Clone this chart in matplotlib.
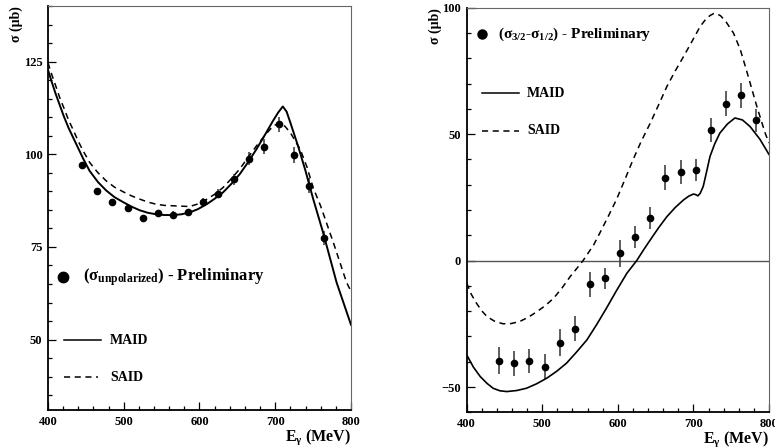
import matplotlib
matplotlib.use("Agg")
import matplotlib.pyplot as plt
from matplotlib.ticker import MultipleLocator

plt.rcParams['font.family'] = ['Liberation Serif', 'DejaVu Serif']
plt.rcParams['font.weight'] = 'bold'
plt.rcParams['mathtext.fontset'] = 'custom'
plt.rcParams['mathtext.rm'] = 'Liberation Serif:bold'
plt.rcParams['mathtext.it'] = 'Liberation Serif:italic:bold'
plt.rcParams['mathtext.bf'] = 'Liberation Serif:bold'

# Left panel: unpolarized cross section
unpol_e = [445, 465, 485, 505, 525, 545, 565, 585, 605, 625, 645, 665, 685, 705, 725, 745, 765]
unpol_val = [97.1, 90.1, 87.2, 85.6, 82.7, 84.1, 83.6, 84.3, 87.0, 89.4, 93.3, 98.8, 102.0, 108.1, 99.8, 91.5, 77.4]
unpol_err = [0.4, 0.4, 0.4, 0.4, 0.4, 0.8, 1.0, 1.0, 1.2, 1.3, 1.5, 1.8, 2.0, 2.0, 2.2, 2.0, 2.0]

maid1_e = [400, 405, 410, 416, 421, 427, 433, 440, 447, 455, 466, 477, 488, 500, 510, 521, 532, 543,
           554, 565, 576, 587, 598, 610, 620, 631, 642, 653, 664, 675, 686, 697, 704, 710, 715,
           720, 730, 740, 750, 763, 781, 800]
maid1_val = [122.8, 119.5, 116.4, 113.0, 110.2, 107.2, 104.6, 101.6, 98.6, 95.5, 92.5, 90.2, 88.4, 87.0,
             85.9, 84.9, 84.2, 83.8, 83.6, 83.6, 83.8, 84.3, 85.2, 86.6, 88.0, 89.7, 92.0, 94.6, 97.8,
             101.3, 105.1, 109.0, 111.3, 112.9, 111.5, 108.5, 102.3, 95.5, 88.0, 79.0, 65.4, 54.0]

said1_e = [400, 405, 411, 416, 422, 427, 433, 440, 447, 455, 466, 477, 488, 500, 510, 521, 532, 543,
           554, 565, 576, 587, 598, 610, 620, 631, 642, 653, 664, 675, 686, 697, 706, 713, 720,
           733, 742, 750, 760, 777, 794, 800]
said1_val = [124.7, 121.5, 118.0, 115.0, 112.0, 109.3, 106.7, 103.5, 100.7, 97.8, 95.0, 92.8, 91.1, 89.8,
             88.8, 87.9, 87.1, 86.5, 86.2, 86.1, 86.0, 85.9, 86.6, 87.9, 89.2, 91.0, 93.4, 96.0, 99.1,
             102.2, 105.0, 107.6, 108.5, 107.5, 105.8, 101.3, 96.5, 91.0, 86.0, 76.0, 65.5, 63.0]

# Right panel: helicity difference
diff_e = [443, 463, 483, 503, 523, 543, 563, 583, 603, 623, 643, 663, 683, 703, 723, 743, 763, 783]
diff_val = [-39.6, -40.6, -39.6, -41.9, -32.4, -26.9, -9.4, -7.0, 2.8, 9.3, 16.8, 32.8, 35.0, 35.8, 51.7, 62.0, 65.3, 55.4]
diff_err = [5.3, 5.0, 4.8, 5.0, 5.5, 4.8, 5.0, 4.2, 5.3, 4.5, 4.5, 4.8, 4.8, 4.5, 4.8, 5.0, 5.0, 4.5]

maid2_e = [400, 409, 418, 427, 435, 444, 453, 466, 479, 492, 506, 519, 532, 545, 559, 572, 585, 598,
           612, 625, 634, 643, 654, 665, 676, 687, 694, 700, 703, 706, 709, 713, 717, 722, 728,
           735, 745, 755, 765, 775, 788, 800]
maid2_val = [-37.3, -42.2, -45.9, -48.6, -50.5, -51.5, -51.8, -51.4, -50.5, -48.8, -46.5, -43.8, -40.6,
             -36.3, -31.4, -25.3, -18.8, -12.0, -5.0, 0.0, 4.2, 8.2, 13.0, 17.4, 21.0, 24.0, 25.5, 26.3,
             26.1, 25.6, 26.6, 29.3, 34.5, 41.2, 46.0, 50.4, 54.0, 56.4, 55.6, 53.0, 48.0, 42.0]

said2_e = [400, 406, 413, 420, 427, 437, 448, 459, 470, 481, 493, 504, 515, 526, 537, 546, 554, 561,
           568, 576, 587, 598, 609, 620, 631, 643, 654, 665, 676, 687, 698, 709, 716, 722, 727,
           731, 736, 743, 753, 762, 770, 777, 784, 795, 800]
said2_val = [-8.9, -13.3, -16.9, -19.9, -22.2, -24.0, -25.0, -24.9, -24.1, -22.5, -20.2, -17.8, -14.9,
             -10.9, -6.3, -3.0, 0.0, 3.1, 6.2, 10.8, 17.3, 24.0, 31.8, 39.8, 47.2, 54.4, 61.6, 68.9,
             75.0, 80.7, 86.6, 92.6, 95.3, 96.9, 97.7, 97.6, 96.8, 94.5, 90.0, 83.5, 75.5, 68.2, 60.9,
             50.4, 46.5]

fig = plt.figure(figsize=(7.75, 4.48), dpi=100)
ax1 = fig.add_axes([0.0619, 0.0848, 0.391, 0.9018])
ax2 = fig.add_axes([0.6022, 0.0797, 0.390, 0.9031])

dash = (0, (4, 3))


def style_axes(ax, ymajor, yminor):
    ax.set_xlim(400, 800)
    ax.xaxis.set_major_locator(MultipleLocator(100))
    ax.xaxis.set_minor_locator(MultipleLocator(20))
    ax.yaxis.set_major_locator(MultipleLocator(ymajor))
    ax.yaxis.set_minor_locator(MultipleLocator(yminor))
    ax.tick_params(which='both', direction='in', top=False, right=False,
                   labelsize=9, width=0.9, pad=4)
    ax.tick_params(which='major', length=6)
    ax.tick_params(which='minor', length=3)
    for lab in ax.get_xticklabels() + ax.get_yticklabels():
        lab.set_fontweight('bold')
    ax.spines['left'].set_linewidth(1.3)
    ax.spines['bottom'].set_linewidth(1.3)
    ax.spines['top'].set_color('#666666')
    ax.spines['right'].set_color('#666666')
    ax.set_ylabel("σ (μb)", fontsize=10, fontweight='bold', va='center')
    ax.set_xlabel(r"E$_{\mathrm{γ}}$ (MeV)", fontsize=11.5, fontweight='bold',
                  va='center', ha='right')


# left
ax1.errorbar(unpol_e, unpol_val, yerr=unpol_err, fmt='o', color='black',
             ecolor='#333333', elinewidth=1.1, markersize=4.5, capsize=0)
ax1.plot(maid1_e, maid1_val, color='black', lw=1.4)
ax1.plot(said1_e, said1_val, color='black', lw=1.1, linestyle=dash)
ax1.set_ylim(31, 140)
style_axes(ax1, 25, 5)
ax1.yaxis.set_label_coords(-0.106, 0.955)
ax1.xaxis.set_label_coords(1.0, -0.067)

t1 = ax1.transAxes
ax1.plot([0.0495], [0.329], 'o', color='black', markersize=7.5, transform=t1)
ax1.text(0.1155, 0.329, r"(σ$_{\mathrm{unpolarized}}$) - Preliminary", transform=t1,
         fontsize=12, fontweight='bold', va='center')
ax1.plot([0.053, 0.175], [0.1725, 0.1725], color='black', lw=1.1, transform=t1)
ax1.text(0.205, 0.1725, "MAID", transform=t1, fontsize=10, fontweight='bold', va='center')
ax1.plot([0.053, 0.165], [0.081, 0.081], color='black', lw=1.1, linestyle=dash, transform=t1)
ax1.text(0.205, 0.081, "SAID", transform=t1, fontsize=10, fontweight='bold', va='center')

# right
ax2.axhline(0, color='#555555', lw=1.0)
ax2.errorbar(diff_e, diff_val, yerr=diff_err, fmt='o', color='black',
             ecolor='#333333', elinewidth=1.1, markersize=4.5, capsize=0)
ax2.plot(maid2_e, maid2_val, color='black', lw=1.2)
ax2.plot(said2_e, said2_val, color='black', lw=1.1, linestyle=dash)
ax2.set_ylim(-60, 100)
style_axes(ax2, 50, 10)
ax2.yaxis.set_label_coords(-0.105, 0.955)
ax2.xaxis.set_label_coords(1.0, -0.066)

t2 = ax2.transAxes
ax2.plot([0.0496], [0.935], 'o', color='black', markersize=6.5, transform=t2)
ax2.text(0.1035, 0.935, r"(σ$_{\mathrm{3/2}}$-σ$_{\mathrm{1/2}}$) - Preliminary", transform=t2,
         fontsize=11, fontweight='bold', va='center')
ax2.plot([0.0496, 0.173], [0.789, 0.789], color='black', lw=1.1, transform=t2)
ax2.text(0.1995, 0.789, "MAID", transform=t2, fontsize=10, fontweight='bold', va='center')
ax2.plot([0.0496, 0.173], [0.696, 0.696], color='black', lw=1.1, linestyle=dash, transform=t2)
ax2.text(0.1995, 0.696, "SAID", transform=t2, fontsize=10, fontweight='bold', va='center')

fig.savefig("out.png", dpi=100)
